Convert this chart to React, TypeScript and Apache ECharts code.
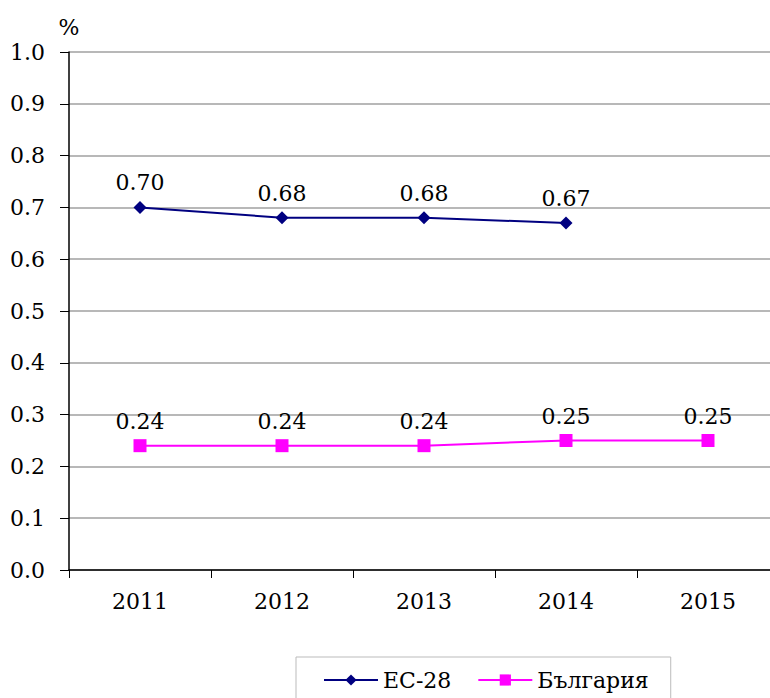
import React, { useEffect, useRef } from "react";
import * as echarts from "echarts";

const categories = ["2011", "2012", "2013", "2014", "2015"];
const euValues = [0.7, 0.68, 0.68, 0.67, null];
const bgValues = [0.24, 0.24, 0.24, 0.25, 0.25];
const seriesNames = ["ЕС-28", "България"];

const FONT = "DejaVu Serif";
const FS = 22;

export default function App() {
  const ref = useRef<HTMLDivElement>(null);
  useEffect(() => {
    if (!ref.current) return;
    const chart = echarts.init(ref.current, undefined, { renderer: "svg" });
    const label = {
      show: true,
      position: "top",
      distance: 7,
      fontFamily: FONT,
      fontSize: FS,
      color: "#000",
      formatter: (p: any) => Number(p.value).toFixed(2),
    };
    chart.setOption({
      animation: false,
      textStyle: { fontFamily: FONT, fontSize: FS },
      grid: { left: 69, top: 52, width: 710, height: 518, containLabel: false },
      legend: {
        left: 296,
        top: 657,
        padding: [12, 22, 20, 27],
        borderColor: "#bbbbbb",
        borderWidth: 1,
        itemWidth: 54,
        itemHeight: 14,
        itemGap: 26,
        textStyle: { fontFamily: FONT, fontSize: FS, color: "#000" },
        data: seriesNames,
      },
      xAxis: {
        type: "category",
        data: categories,
        boundaryGap: true,
        axisLine: { lineStyle: { color: "#000", width: 1.5 } },
        axisTick: { show: true, length: 8, alignWithLabel: false, lineStyle: { color: "#000" } },
        axisLabel: { fontFamily: FONT, fontSize: FS, color: "#000", margin: 20 },
        splitLine: { show: false },
      },
      yAxis: {
        type: "value",
        min: 0,
        max: 1,
        interval: 0.1,
        name: "%",
        nameLocation: "end",
        nameGap: 14,
        nameTextStyle: { fontFamily: FONT, fontSize: 22, color: "#000", align: "center" },
        axisLine: { show: true, lineStyle: { color: "#000", width: 1.5 } },
        axisTick: { show: true, length: 9, lineStyle: { color: "#000" } },
        axisLabel: {
          fontFamily: FONT,
          fontSize: FS,
          color: "#000",
          margin: 24,
          formatter: (v: number) => v.toFixed(1),
        },
        splitLine: { show: true, lineStyle: { color: "#a0a0a0", width: 1.5 } },
      },
      series: [
        {
          name: seriesNames[0],
          type: "line",
          data: euValues,
          color: "#000080",
          symbol: "diamond",
          symbolSize: 13,
          lineStyle: { width: 2, color: "#000080" },
          itemStyle: { color: "#000080" },
          label,
        },
        {
          name: seriesNames[1],
          type: "line",
          data: bgValues,
          color: "#ff00ff",
          symbol: "rect",
          symbolSize: 13,
          lineStyle: { width: 2, color: "#ff00ff" },
          itemStyle: { color: "#ff00ff" },
          label,
        },
      ],
    });
    return () => chart.dispose();
  }, []);
  return (
    <div style={{ position: "fixed", left: 0, top: 0, width: 770, height: 698, overflow: "hidden", background: "#fff" }}>
      <div ref={ref} style={{ width: 790, height: 698 }} />
    </div>
  );
}
